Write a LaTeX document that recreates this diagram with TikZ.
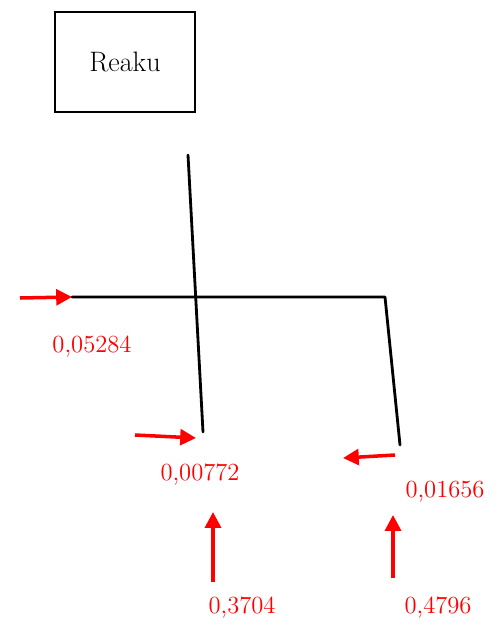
\documentclass[tikz,border=0pt]{standalone}
\usetikzlibrary{arrows.meta}
\begin{document}
\begin{tikzpicture}[x=0.02cm,y=-0.02cm,
  pipe/.style={line width=1.6pt,black,line cap=round,line join=round},
  flow/.style={line width=2pt,red,-{Triangle[length=9pt,width=9pt]}},
  val/.style={red,font=\fontsize{14}{16}\selectfont,inner sep=0pt},
  unit/.style={draw,line width=1.6pt,minimum width=2.8cm,minimum height=2cm,font=\fontsize{16}{18}\selectfont}]
\useasboundingbox (0,0) rectangle (500,628);
% unit box
\node[unit] (box) at (125,62) {Reaku};
% pipe network
\coordinate (vtop) at (188,155);
\coordinate (vbot) at (203,432);
\coordinate (hleft) at (72,297);
\coordinate (hright) at (385,297);
\coordinate (rbot) at (400,445);
\draw[pipe] (vtop) -- (vbot);
\draw[pipe] (hleft) -- (hright) -- (rbot);
% arrows
\coordinate (a1s) at (20,298);
\draw[flow] (a1s) -- (hleft);
\node[val] (l1) at (92,347) {0,05284};
\coordinate (a2s) at (135,435);
\coordinate (a2e) at (196,438);
\draw[flow] (a2s) -- (a2e);
\node[val] (l2) at (200,475) {0,00772};
\coordinate (a3s) at (395,455);
\coordinate (a3e) at (343,458);
\draw[flow] (a3s) -- (a3e);
\node[val] (l3) at (445,492) {0,01656};
\coordinate (a4s) at (213,582);
\coordinate (a4e) at (213,512);
\draw[flow] (a4s) -- (a4e);
\node[val] (l4) at (242,608) {0,3704};
\coordinate (a5s) at (393,578);
\coordinate (a5e) at (393,515);
\draw[flow] (a5s) -- (a5e);
\node[val] (l5) at (438,608) {0,4796};
\end{tikzpicture}
\end{document}
